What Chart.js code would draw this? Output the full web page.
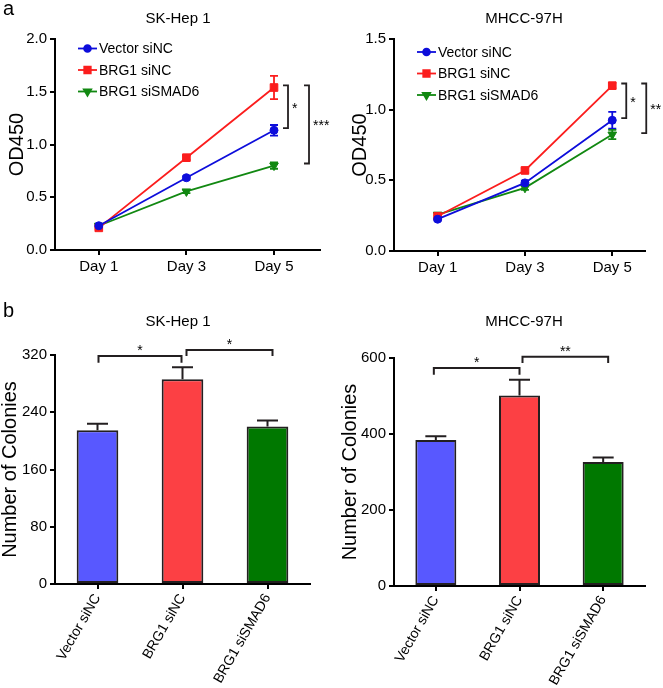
<!DOCTYPE html>
<html><head><meta charset="utf-8">
<script src="https://cdn.jsdelivr.net/npm/chart.js@4.4.0/dist/chart.umd.min.js"></script>
<style>
html,body{margin:0;padding:0;background:#fff;width:663px;height:688px;overflow:hidden}
canvas{position:absolute}
</style></head><body>
<canvas id="a1" width="331" height="290" style="left:0;top:0"></canvas>
<canvas id="a2" width="332" height="290" style="left:331px;top:0"></canvas>
<canvas id="b1" width="331" height="398" style="left:0;top:290px"></canvas>
<canvas id="b2" width="332" height="398" style="left:331px;top:290px"></canvas>
<script>
// ---------- data ----------
const dayNums = [1, 3, 5];
const days = ['Day 1', 'Day 3', 'Day 5'];
const groups = ['Vector siNC', 'BRG1 siNC', 'BRG1 siSMAD6'];
const cellLines = ['SK-Hep 1', 'MHCC-97H'];

// panel a: OD450, SK-Hep 1
const skVector = [0.23, 0.685, 1.135];
const skVectorErr = [0.01, 0.015, 0.05];
const skBrg1 = [0.21, 0.875, 1.54];
const skBrg1Err = [0.01, 0.02, 0.11];
const skSmad6 = [0.23, 0.555, 0.80];
const skSmad6Err = [0.01, 0.015, 0.03];
// panel a: OD450, MHCC-97H
const mhVector = [0.225, 0.482, 0.925];
const mhVectorErr = [0.01, 0.015, 0.06];
const mhBrg1 = [0.246, 0.57, 1.17];
const mhBrg1Err = [0.01, 0.015, 0.02];
const mhSmad6 = [0.257, 0.447, 0.824];
const mhSmad6Err = [0.01, 0.015, 0.033];

// panel b: colonies
const skColonies = [215, 286, 220];
const skColoniesErr = [9, 17, 8.5];
const mhColonies = [384, 501, 326];
const mhColoniesErr = [10, 42, 12];

// tick values
const odTicksSk = [0, 0.5, 1.0, 1.5, 2.0];
const odTicksMh = [0, 0.5, 1.0, 1.5];
const colTicksSk = [0, 80, 160, 240, 320];
const colTicksMh = [0, 200, 400, 600];

// significance brackets [top value, bottom value, label] (panel a)
const sigSkOD = [[1.56, 1.155, '*'], [1.56, 0.82, '***']];
const sigMhOD = [[1.185, 0.94, '*'], [1.185, 0.834, '**']];
// [from group, to group, height value, leg-bottom value, label] (panel b)
const sigSkCol = [[0, 1, 318.6, 309, '*'], [1, 2, 327, 318.6, '*']];
const sigMhCol = [[0, 1, 574, 556, '*'], [1, 2, 603, 587, '**']];

// ---------- style ----------
const FONT = '"Liberation Sans", Arial, Helvetica, sans-serif';
Chart.defaults.font.family = FONT;
Chart.defaults.color = '#000';
const lineColors = ['#0d0ddb', '#fb1d1d', '#118811'];
const pointStyles = ['circle', 'rect', 'triangle'];
const pointRadii = [4, 5.4, 5];
const pointRot = [0, 0, 180];
const barColors = ['#5858ff', '#fc4044', '#007800'];
const INK = '#231f20';

function axisBase() {
  return {
    grid: { display: true, drawOnChartArea: false, drawTicks: true, tickLength: 5, color: '#000', lineWidth: 2, offset: false },
    border: { display: true, color: '#000', width: 2 },
  };
}

function drawText(ctx, txt, x, y, size, align, base) {
  ctx.font = size + 'px ' + FONT;
  ctx.fillStyle = '#000';
  ctx.textAlign = align || 'left';
  ctx.textBaseline = base || 'alphabetic';
  ctx.fillText(txt, x, y);
}

function lineChart(id, series, errs, yTicks, sig, L) {
  const datasets = series.map((d, i) => ({
    label: groups[i], data: d.map((v, j) => ({ x: dayNums[j], y: v })),
    borderColor: lineColors[i], backgroundColor: lineColors[i],
    borderWidth: 1.8, pointStyle: pointStyles[i], pointRadius: pointRadii[i],
    pointRotation: pointRot[i], pointBorderWidth: 1, tension: 0, fill: false,
  }));
  const plug = {
    id: 'annot_' + id,
    beforeDatasetsDraw(chart) {
      const ctx = chart.ctx, ys = chart.scales.y;
      chart.data.datasets.forEach((ds, i) => {
        const meta = chart.getDatasetMeta(i);
        ctx.save();
        ctx.strokeStyle = ds.borderColor; ctx.lineWidth = 1.8;
        meta.data.forEach((pt, j) => {
          const v = ds.data[j].y, e = errs[i][j];
          const yt = ys.getPixelForValue(v + e), yb = ys.getPixelForValue(v - e);
          ctx.beginPath();
          ctx.moveTo(pt.x, yt); ctx.lineTo(pt.x, yb);
          ctx.moveTo(pt.x - 4, yt); ctx.lineTo(pt.x + 4, yt);
          ctx.moveTo(pt.x - 4, yb); ctx.lineTo(pt.x + 4, yb);
          ctx.stroke();
        });
        ctx.restore();
      });
    },
    afterDraw(chart) {
      const ctx = chart.ctx, ca = chart.chartArea, xs = chart.scales.x, ys = chart.scales.y;
      ctx.save();
      if (L.letter) drawText(ctx, L.letter, 3, 15, 20);
      drawText(ctx, L.title, L.titleX, 19, 15, 'center', 'middle');
      // legend
      chart.data.datasets.forEach((ds, i) => {
        const x0 = ca.left + L.legDx, y = ca.top + L.legDy + i * 21.5;
        ctx.strokeStyle = ds.borderColor; ctx.fillStyle = ds.borderColor; ctx.lineWidth = 1.8;
        ctx.beginPath(); ctx.moveTo(x0, y); ctx.lineTo(x0 + 19, y); ctx.stroke();
        Chart.helpers.drawPoint(ctx, { pointStyle: ds.pointStyle, rotation: ds.pointRotation, radius: ds.pointRadius * 0.85, borderWidth: 1 }, x0 + 9.5, y);
        drawText(ctx, ds.label, x0 + 21, y + 1, 14, 'left', 'middle');
      });
      // brackets
      const xLast = xs.getPixelForValue(dayNums[dayNums.length - 1]);
      sig.forEach((s, k) => {
        const x = xLast + L.sigDx[k];
        const y1 = ys.getPixelForValue(s[0]), y2 = ys.getPixelForValue(s[1]);
        ctx.strokeStyle = INK; ctx.lineWidth = 1.8;
        ctx.beginPath();
        ctx.moveTo(x - 5, y1); ctx.lineTo(x, y1); ctx.lineTo(x, y2); ctx.lineTo(x - 5, y2);
        ctx.stroke();
        drawText(ctx, s[2], x + 4, (y1 + y2) / 2 + 6, 14, 'left', 'alphabetic');
      });
      ctx.restore();
    }
  };
  const yb = axisBase(), xb = axisBase();
  return new Chart(document.getElementById(id), {
    type: 'line',
    data: { datasets },
    options: {
      responsive: false, animation: false, events: [],
      layout: { padding: { left: 0, top: L.padTop, right: L.padRight, bottom: 0 } },
      plugins: { legend: { display: false }, tooltip: { enabled: false } },
      scales: {
        x: Object.assign(xb, {
          type: 'linear', min: 0, max: L.xMax,
          afterBuildTicks(s) { s.ticks = dayNums.map(v => ({ value: v })); },
          ticks: { color: '#000', font: { size: 15 }, padding: 3, autoSkip: false, maxRotation: 0,
                   callback: v => days[dayNums.indexOf(v)] },
          afterFit(s) { s.height = L.xHeight; }
        }),
        y: Object.assign(yb, {
          min: yTicks[0], max: yTicks[yTicks.length - 1],
          afterBuildTicks(s) { s.ticks = yTicks.map(v => ({ value: v })); },
          ticks: { color: '#000', font: { size: 15 }, padding: 3, callback: v => Number(v).toFixed(1) },
          title: { display: true, text: 'OD450', font: { size: 20, lineHeight: 1 }, color: '#000', padding: { top: L.yTitlePad, bottom: 0 } },
          afterFit(s) { s.width = L.yWidth; }
        })
      }
    },
    plugins: [plug]
  });
}

function barChart(id, vals, errs, yTicks, sig, L) {
  const plug = {
    id: 'annot_' + id,
    afterDatasetsDraw(chart) {
      const ctx = chart.ctx, ys = chart.scales.y;
      const meta = chart.getDatasetMeta(0);
      ctx.save(); ctx.strokeStyle = INK; ctx.lineWidth = 2;
      meta.data.forEach((b, j) => {
        const yt = ys.getPixelForValue(vals[j] + errs[j]);
        ctx.beginPath();
        ctx.moveTo(b.x, b.y); ctx.lineTo(b.x, yt);
        ctx.moveTo(b.x - 10.5, yt); ctx.lineTo(b.x + 10.5, yt);
        ctx.stroke();
      });
      ctx.restore();
    },
    afterDraw(chart) {
      const ctx = chart.ctx, xs = chart.scales.x, ys = chart.scales.y;
      ctx.save();
      if (L.letter) drawText(ctx, L.letter, 3, 27, 20);
      drawText(ctx, L.title, L.titleX, 32, 15, 'center', 'middle');
      sig.forEach((s, k) => {
        const xa = xs.getPixelForValue(s[0]) + L.sigGap[k][0];
        const xb = xs.getPixelForValue(s[1]) + L.sigGap[k][1];
        const y = ys.getPixelForValue(s[2]), yl = ys.getPixelForValue(s[3]);
        ctx.strokeStyle = INK; ctx.lineWidth = 2;
        ctx.beginPath();
        ctx.moveTo(xa, yl); ctx.lineTo(xa, y); ctx.lineTo(xb, y); ctx.lineTo(xb, yl);
        ctx.stroke();
        drawText(ctx, s[4], (xa + xb) / 2, y - 1, 14, 'center', 'alphabetic');
      });
      ctx.restore();
    }
  };
  const yb = axisBase(), xb = axisBase();
  return new Chart(document.getElementById(id), {
    type: 'bar',
    data: {
      labels: groups,
      datasets: [{
        data: vals, backgroundColor: barColors, borderColor: INK, borderWidth: 2,
        borderSkipped: false, categoryPercentage: 1, barPercentage: 0.49
      }]
    },
    options: {
      responsive: false, animation: false, events: [],
      layout: { padding: { left: 0, top: L.padTop, right: L.padRight, bottom: 0 } },
      plugins: { legend: { display: false }, tooltip: { enabled: false } },
      scales: {
        x: Object.assign(xb, {
          type: 'category', offset: true,
          ticks: { color: '#000', font: { size: 14 }, padding: 2, autoSkip: false, minRotation: 60, maxRotation: 60 },
          afterFit(s) { s.height = L.xHeight; }
        }),
        y: Object.assign(yb, {
          min: yTicks[0], max: yTicks[yTicks.length - 1],
          afterBuildTicks(s) { s.ticks = yTicks.map(v => ({ value: v })); },
          ticks: { color: '#000', font: { size: 15 }, padding: 3 },
          title: { display: true, text: 'Number of Colonies', font: { size: 20, lineHeight: 1 }, color: '#000', padding: { top: L.yTitlePad, bottom: 0 } },
          afterFit(s) { s.width = L.yWidth; }
        })
      }
    },
    plugins: [plug]
  });
}

lineChart('a1', [skVector, skBrg1, skSmad6], [skVectorErr, skBrg1Err, skSmad6Err], odTicksSk, sigSkOD,
  { letter: 'a', title: cellLines[0], titleX: 178, yWidth: 55, padTop: 39, padRight: 11, xHeight: 40, xMax: 6.05, yTitlePad: 7, legDx: 23, legDy: 9.5, sigDx: [14, 35] });
lineChart('a2', [mhVector, mhBrg1, mhSmad6], [mhVectorErr, mhBrg1Err, mhSmad6Err], odTicksMh, sigMhOD,
  { letter: '', title: cellLines[1], titleX: 193, yWidth: 63, padTop: 39, padRight: 18, xHeight: 39, xMax: 5.75, yTitlePad: 19, legDx: 23, legDy: 13, sigDx: [14, 34] });
barChart('b1', skColonies, skColoniesErr, colTicksSk, sigSkCol,
  { letter: 'b', title: cellLines[0], titleX: 178, yWidth: 55, padTop: 65, padRight: 21, xHeight: 104, yTitlePad: 0, sigGap: [[1, -1], [4, 5]] });
barChart('b2', mhColonies, mhColoniesErr, colTicksMh, sigMhCol,
  { letter: '', title: cellLines[1], titleX: 193, yWidth: 63, padTop: 68, padRight: 18, xHeight: 102, yTitlePad: 9, sigGap: [[-2, 0], [3, 5]] });
</script>
</body></html>
